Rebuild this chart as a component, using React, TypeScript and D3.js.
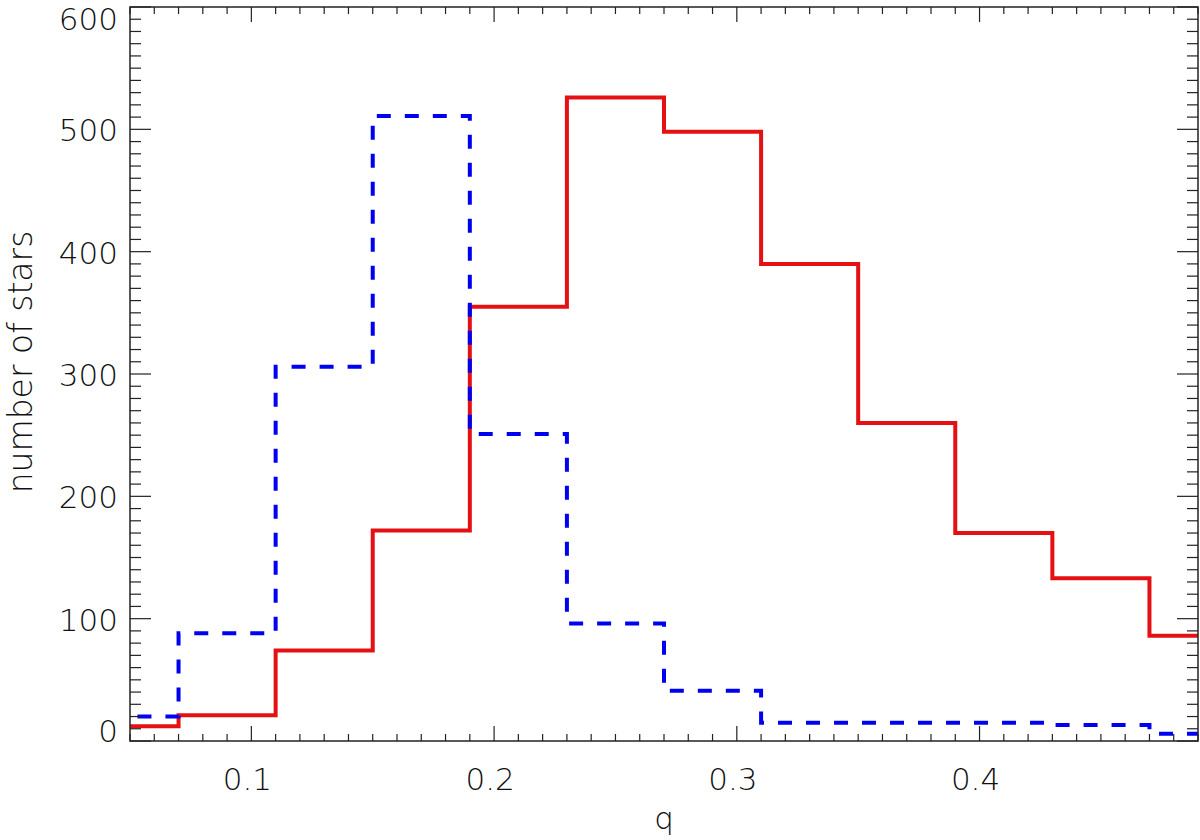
import React from "react";
import * as d3 from "d3";

// Bin edges (q) and counts per bin
const binEdges = [0.03, 0.07, 0.11, 0.15, 0.19, 0.23, 0.27, 0.31, 0.35, 0.39, 0.43, 0.47, 0.51];
const redCounts = [12, 21, 74, 172, 355, 526, 498, 390, 260, 170, 133, 86];
const blueCounts = [20, 88, 306, 511, 251, 96, 41, 15, 15, 15, 13, 6];

const xTickValues = [0.1, 0.2, 0.3, 0.4];
const xTickLabels = ["0.1", "0.2", "0.3", "0.4"];
const yTickValues = [0, 100, 200, 300, 400, 500, 600];
const yTickLabels = ["0", "100", "200", "300", "400", "500", "600"];

const xLabel = "q";
const yLabel = "number of stars";

const W = 1200, H = 840;
const L = 130, R = 1198, T = 7, B = 741;
const FONT = "'DejaVu Sans', sans-serif";

export default function App() {
  const x = d3.scaleLinear().domain([0.05, 0.49]).range([L, R]);
  const y = d3.scaleLinear().domain([0, 600]).range([B, T]);

  const stepPts = (counts: number[]) => {
    const pts: [number, number][] = [];
    counts.forEach((c, i) => {
      pts.push([binEdges[i], c]);
      pts.push([binEdges[i + 1], c]);
    });
    return pts;
  };
  const line = d3.line<[number, number]>().x(d => x(d[0])).y(d => y(d[1]));

  const xMinor = d3.range(5, 50, 1).map(v => v / 100).filter(v => !xTickValues.some(t => Math.abs(t - v) < 1e-9));
  const yMinor = d3.range(0, 601, 10).filter(v => v % 100 !== 0);

  const yLabelY = (v: number) => {
    const p = y(v) + 12;
    return Math.min(Math.max(p, T + 23), B + 1);
  };

  const axisColor = "#222";
  return (
    <svg width={W} height={H} style={{ position: "absolute", left: 0, top: 0, background: "#fff" }}>
      <defs>
        <clipPath id="plotclip">
          <rect x={L} y={T} width={R - L} height={B - T} />
        </clipPath>
      </defs>
      <rect x={0} y={0} width={W} height={H} fill="#fff" />
      <g clipPath="url(#plotclip)" fill="none" strokeLinejoin="miter">
        <path d={line(stepPts(redCounts)) || ""} stroke="rgb(228,16,20)" strokeWidth={4} />
        <path d={line(stepPts(blueCounts)) || ""} stroke="rgb(0,0,240)" strokeWidth={4} strokeDasharray="14,14" />
      </g>
      {/* frame */}
      <rect x={L} y={T} width={R - L} height={B - T} fill="none" stroke={axisColor} strokeWidth={1.5} />
      {/* ticks */}
      <g stroke={axisColor} strokeWidth={1.2}>
        {xTickValues.map(v => (
          <g key={"xm" + v}>
            <line x1={x(v)} x2={x(v)} y1={B} y2={B - 15} />
            <line x1={x(v)} x2={x(v)} y1={T} y2={T + 15} />
          </g>
        ))}
        {xMinor.map(v => (
          <g key={"xn" + v}>
            <line x1={x(v)} x2={x(v)} y1={B} y2={B - 7} />
            <line x1={x(v)} x2={x(v)} y1={T} y2={T + 7} />
          </g>
        ))}
        {yTickValues.map(v => (
          <g key={"ym" + v}>
            <line x1={L} x2={L + 21} y1={y(v)} y2={y(v)} />
            <line x1={R} x2={R - 21} y1={y(v)} y2={y(v)} />
          </g>
        ))}
        {yMinor.map(v => (
          <g key={"yn" + v}>
            <line x1={L} x2={L + 11} y1={y(v)} y2={y(v)} />
            <line x1={R} x2={R - 11} y1={y(v)} y2={y(v)} />
          </g>
        ))}
      </g>
      {/* labels */}
      <g fontFamily={FONT} fontWeight={200} fontSize={31} fill="#111">
        {xTickValues.map((v, i) => (
          <text key={"xl" + v} x={x(v) - 4} y={790} textAnchor="middle">{xTickLabels[i]}</text>
        ))}
        {yTickValues.map((v, i) => (
          <text key={"yl" + v} x={118} y={yLabelY(v)} textAnchor="end">{yTickLabels[i]}</text>
        ))}
        <text x={(L + R) / 2} y={829} textAnchor="middle">{xLabel}</text>
        <text transform={`translate(32,362) rotate(-90)`} textAnchor="middle" fontSize={33}>{yLabel}</text>
      </g>
    </svg>
  );
}
